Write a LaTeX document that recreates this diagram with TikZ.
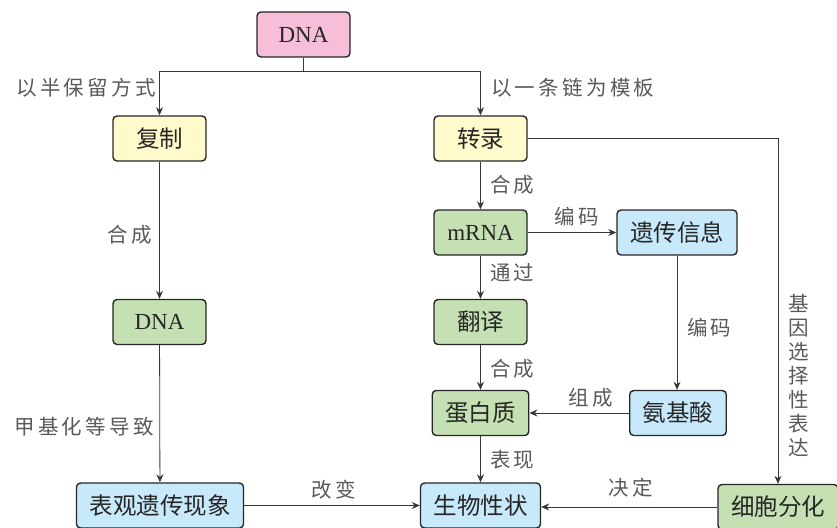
\documentclass[tikz,border=0pt]{standalone}
\usepackage{fontspec}
\setmainfont{Liberation Serif}
\newfontfamily\cjk{Noto Sans CJK SC}
\newfontfamily\cjklab{Noto Sans CJK SC}[LetterSpace=16]
\usetikzlibrary{positioning,arrows.meta}

\definecolor{boxpink}{RGB}{246,190,216}
\definecolor{boxyellow}{RGB}{255,250,204}
\definecolor{boxgreen}{RGB}{197,224,178}
\definecolor{boxblue}{RGB}{199,233,250}
\definecolor{linegray}{RGB}{55,55,55}

\tikzset{
    box/.style={draw=black!85, line width=1.4pt, rounded corners=4pt,
        minimum width=93pt, minimum height=45pt, inner xsep=13pt,
        font=\fontsize{23.5}{26}\selectfont\cjk, text=black!85},
    latin/.style={font=\fontsize{23}{26}\selectfont\rmfamily},
    lab/.style={font=\fontsize{20.5}{24}\selectfont\cjklab, text=black!65, inner sep=0pt},
    arr/.style={-{Stealth[length=8pt,width=7pt]}, linegray, line width=0.8pt},
    ln/.style={linegray, line width=0.8pt}
}

\begin{document}
\begin{tikzpicture}[x=1pt,y=-1pt]
    \useasboundingbox (0,0) rectangle (837,527);
    \node[box, latin, fill=boxpink] (dna) at (303.5,34.5) {DNA};
    \node[box, fill=boxyellow] (copy) at (159.5,138.5) {复制};
    \node[box, fill=boxyellow] (trans) at (480.5,138.5) {转录};
    \node[box, latin, fill=boxgreen] (dnab) at (159.5,322) {DNA};
    \node[box, fill=boxblue] (epi) at (160,505.5) {表观遗传现象};
    \node[box, latin, fill=boxgreen] (mrna) at (480.5,232.5) {mRNA};
    \node[box, fill=boxblue] (info) at (677,232.5) {遗传信息};
    \node[box, fill=boxgreen] (transl) at (480.5,322) {翻译};
    \node[box, fill=boxgreen] (prot) at (480.5,413) {蛋白质};
    \node[box, fill=boxblue] (amino) at (678,413) {氨基酸};
    \node[box, fill=boxblue] (trait) at (480.5,505.5) {生物性状};
    \node[box, fill=boxgreen] (cell) at (778,507) {细胞分化};

    \coordinate (fork) at (303.5,71);
    \draw[ln] (dna) -- (fork);
    \draw[arr] (fork) -| (copy);
    \draw[arr] (fork) -| (trans);
    \foreach \a/\b in {copy/dnab, dnab/epi, trans/mrna, mrna/transl, transl/prot, prot/trait, mrna/info, epi/trait, amino/prot}
        \draw[arr] (\a) -- (\b);
    \draw[arr] (info) -- (info |- amino.north);
    \draw[arr] (trans.east) -| (cell.north);
    \draw[arr] (cell.west) -- (cell.west -| trait.east);

    \node[lab, anchor=east] (l1) at (156,88) {以半保留方式};
    \node[lab, anchor=west] (l2) at (491,88) {以一条链为模板};
    \node[lab, anchor=east] (l3) at (152,235) {合成};
    \node[lab, anchor=east] (l4) at (154,427) {甲基化等导致};
    \node[lab] (l5) at (334,490) {改变};
    \node[lab, anchor=west] (l6) at (490,185) {合成};
    \node[lab] (l7) at (577,217) {编码};
    \node[lab, anchor=west] (l8) at (490,273) {通过};
    \node[lab, anchor=west] (l9) at (687,328) {编码};
    \node[lab, anchor=west] (l10) at (490,369) {合成};
    \node[lab] (l11) at (591,398) {组成};
    \node[lab, anchor=west] (l12) at (490,460) {表现};
    \node[lab] (l13) at (631,488) {决定};
    \node[lab, align=center] (l14) at (799,376) {基\\因\\选\\择\\性\\表\\达};
\end{tikzpicture}
\end{document}
